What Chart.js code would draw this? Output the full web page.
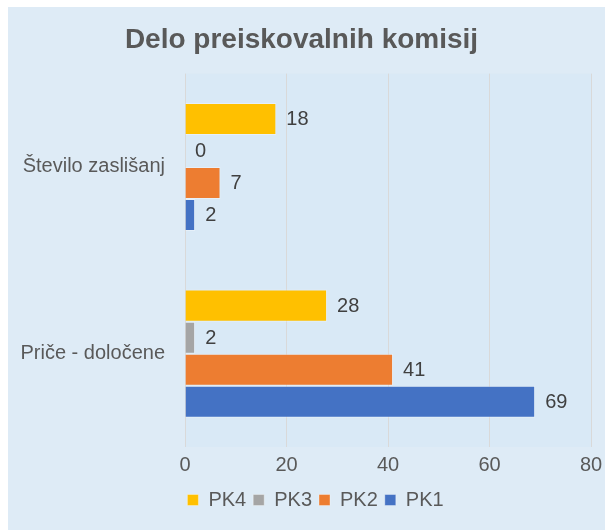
<!DOCTYPE html>
<html>
<head>
<meta charset="utf-8">
<script src="https://cdn.jsdelivr.net/npm/chart.js@4/dist/chart.umd.min.js"></script>
<style>
html,body{margin:0;padding:0;background:#fff;}
#wrap{width:605px;height:530px;position:relative;}
</style>
</head>
<body>
<div id="wrap"><canvas id="c" width="605" height="530"></canvas></div>
<script>
const categories = ["Število zaslišanj", "Priče - določene"];
const seriesNames = ["PK4", "PK3", "PK2", "PK1"];
const pk4 = [18, 28];
const pk3 = [0, 2];
const pk2 = [7, 41];
const pk1 = [2, 69];
const seriesColors = ["#FFC000", "#A5A5A5", "#ED7D31", "#4472C4"];
const xTicks = [0, 20, 40, 60, 80];

const seriesValues = [pk4, pk3, pk2, pk1];
const FONT = '"Liberation Sans", Arial, sans-serif';

const bgPlugin = {
  id: 'bg',
  afterLayout(chart) {
    if (chart.legend) { chart.legend.left += 14; chart.legend.right += 14; }
  },
  beforeDraw(chart) {
    const ctx = chart.ctx, a = chart.chartArea;
    ctx.save();
    ctx.fillStyle = '#ffffff';
    ctx.fillRect(0, 0, chart.width, chart.height);
    ctx.fillStyle = '#DEEBF6';
    ctx.fillRect(8, 7, chart.width - 8, chart.height - 7);
    ctx.fillStyle = '#D9E9F6';
    ctx.fillRect(a.left, a.top, a.right - a.left, a.bottom - a.top);
    ctx.restore();
  }
};

const labelPlugin = {
  id: 'vals',
  afterDatasetsDraw(chart) {
    const ctx = chart.ctx;
    ctx.save();
    ctx.font = '20px ' + FONT;
    ctx.fillStyle = '#404040';
    ctx.textBaseline = 'middle';
    ctx.textAlign = 'left';
    chart.data.datasets.forEach((ds, i) => {
      const meta = chart.getDatasetMeta(i);
      meta.data.forEach((el, j) => {
        ctx.fillText(String(ds.data[j]), el.x + 10, el.y + 1);
      });
    });
    ctx.restore();
  }
};

new Chart(document.getElementById('c'), {
  type: 'bar',
  data: {
    labels: categories,
    datasets: seriesNames.map((n, i) => ({
      label: n,
      data: seriesValues[i],
      backgroundColor: seriesColors[i],
      borderColor: 'rgba(255,255,255,0.35)',
      borderWidth: 1,
      categoryPercentage: 0.686,
      barPercentage: 1.0
    }))
  },
  options: {
    indexAxis: 'y',
    responsive: false,
    animation: false,
    devicePixelRatio: 1,
    layout: { padding: { left: 8, top: 7, right: 10, bottom: 10 } },
    scales: {
      x: {
        min: 0, max: 80,
        afterBuildTicks(scale) { scale.ticks = xTicks.map(v => ({ value: v })); },
        afterFit(scale) { scale.height = 36; scale.paddingLeft = 0; scale.paddingRight = 14; },
        grid: { color: '#D9D9D9', lineWidth: 1, drawTicks: false },
        border: { display: false },
        ticks: {
          color: '#595959',
          padding: 6,
          font: { family: FONT, size: 20 }
        }
      },
      y: {
        grid: { display: false, drawTicks: false },
        border: { display: false },
        afterFit(scale) { scale.width = 177; },
        ticks: {
          color: '#595959',
          padding: 20,
          font: { family: FONT, size: 20 }
        }
      }
    },
    plugins: {
      title: {
        display: true,
        text: 'Delo preiskovalnih komisij',
        color: '#595959',
        font: { family: FONT, size: 28, weight: 'bold' },
        padding: { top: 16, bottom: 17 }
      },
      legend: {
        position: 'bottom',
        labels: {
          boxWidth: 11,
          boxHeight: 11,
          color: '#595959',
          padding: 7,
          font: { family: FONT, size: 20 }
        }
      },
      tooltip: { enabled: false }
    }
  },
  plugins: [bgPlugin, labelPlugin]
});
</script>
</body>
</html>
